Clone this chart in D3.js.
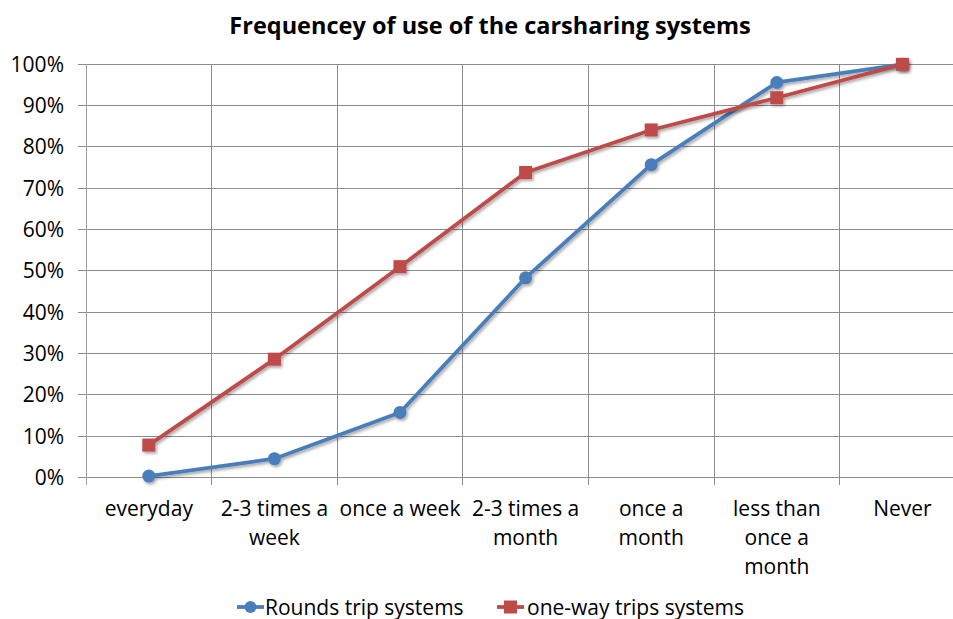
<!DOCTYPE html>
<html><head><meta charset="utf-8">
<script src="https://cdn.jsdelivr.net/npm/d3@7"></script>
<style>
body{margin:0;background:#fff;}
svg{display:block;font-family:"Open Sans","Liberation Sans",sans-serif;}
</style></head>
<body><svg id="chart" width="953" height="619"></svg>
<script>
const categories = [["everyday"],["2-3 times a","week"],["once a week"],["2-3 times a","month"],["once a","month"],["less than","once a","month"],["Never"]];
const roundTrip = [0.3, 4.5, 15.7, 48.3, 75.7, 95.6, 100];
const oneWay = [7.8, 28.6, 51.0, 73.8, 84.1, 91.9, 100];
const yTicks = [0,10,20,30,40,50,60,70,80,90,100];
const seriesNames = ["Rounds trip systems","one-way trips systems"];
const colors = ["#4A7EBB","#BE4B48"];

(function(){
const svg = d3.select("#chart");
const pLeft = 86, pTop = 64.3, pBottom = 477.3, band = 125.6;
const x = d3.scaleBand().domain(d3.range(categories.length)).range([pLeft, pLeft + band*categories.length]).padding(0);
const y = d3.scaleLinear().domain([0,100]).range([pBottom, pTop]);

const defs = svg.append("defs");
const f = defs.append("filter").attr("id","sh").attr("x","-20%").attr("y","-20%").attr("width","140%").attr("height","140%");
f.append("feDropShadow").attr("dx",1.5).attr("dy",2).attr("stdDeviation",1.5).attr("flood-color","#000").attr("flood-opacity",0.35);

svg.append("text").attr("x",490).attr("y",34).attr("text-anchor","middle")
  .attr("font-size",23.5).attr("font-weight","bold").attr("fill","#000")
  .text("Frequencey of use of the carsharing systems");

svg.append("g").selectAll("line").data(yTicks).join("line")
  .attr("x1",78).attr("x2",953).attr("y1",d=>y(d)).attr("y2",d=>y(d))
  .attr("stroke","#8c8c8c").attr("stroke-width",1).attr("shape-rendering","crispEdges");
svg.append("g").selectAll("line").data(d3.range(categories.length+1)).join("line")
  .attr("x1",d=>pLeft+band*d).attr("x2",d=>pLeft+band*d).attr("y1",pTop).attr("y2",pBottom+8)
  .attr("stroke",(d)=>d===0?"#a0a0a0":"#8c8c8c").attr("stroke-width",1).attr("shape-rendering","crispEdges");

svg.append("g").selectAll("text").data(yTicks).join("text")
  .attr("x",64).attr("y",d=>y(d)+7.5).attr("text-anchor","end")
  .attr("font-size",21).attr("fill","#000").text(d=>d+"%");

const xl = svg.append("g").selectAll("text").data(categories).join("text")
  .attr("text-anchor","middle").attr("font-size",21).attr("fill","#000");
xl.each(function(lines,i){
  const t = d3.select(this);
  lines.forEach((ln,j)=>{
    t.append("tspan").attr("x",x(i)+x.bandwidth()/2).attr("y",516+j*29).text(ln);
  });
});

const cx = i => x(i)+x.bandwidth()/2;
const line = d3.line().x((d,i)=>cx(i)).y(d=>y(d));

[roundTrip, oneWay].forEach((s,k)=>{
  const g = svg.append("g").attr("filter","url(#sh)");
  g.append("path").datum(s).attr("d",line).attr("fill","none").attr("stroke",colors[k]).attr("stroke-width",3.8).attr("stroke-linejoin","round");
  if(k===0){
    g.selectAll("circle").data(s).join("circle").attr("cx",(d,i)=>cx(i)).attr("cy",d=>y(d)).attr("r",6.5).attr("fill",colors[k]);
  } else {
    g.selectAll("rect").data(s).join("rect").attr("x",(d,i)=>cx(i)-6.5).attr("y",d=>y(d)-6.5).attr("width",13).attr("height",13).attr("fill",colors[k]);
  }
});

const leg = [{x0:237,tx:265},{x0:497,tx:527}];
leg.forEach((L,k)=>{
  const g = svg.append("g");
  g.append("line").attr("x1",L.x0).attr("x2",L.x0+27).attr("y1",607).attr("y2",607).attr("stroke",colors[k]).attr("stroke-width",3.8);
  if(k===0) g.append("circle").attr("cx",L.x0+13.5).attr("cy",607).attr("r",6).attr("fill",colors[k]);
  else g.append("rect").attr("x",L.x0+7).attr("y",600.5).attr("width",13).attr("height",13).attr("fill",colors[k]);
  g.append("text").attr("x",L.tx).attr("y",614.5).attr("font-size",21).attr("fill","#000").text(seriesNames[k]);
});
})();
</script></body></html>
